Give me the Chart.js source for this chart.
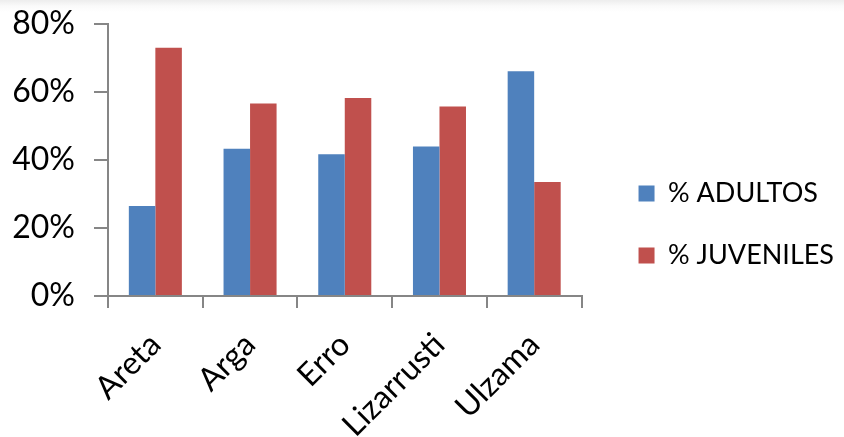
<!DOCTYPE html>
<html>
<head>
<meta charset="utf-8">
<script src="https://cdn.jsdelivr.net/npm/chart.js@4/dist/chart.umd.min.js"></script>
<style>
    html, body { margin: 0; padding: 0; background: #fff; }
    #wrap {
        width: 844px; height: 437px; position: relative;
        background: linear-gradient(#ededed 0px, #fafafa 6px, #fff 12px);
    }
</style>
</head>
<body>
<div id="wrap"><canvas id="chart"></canvas></div>
<script>
// Datos
const rivers = ['Areta', 'Arga', 'Erro', 'Lizarrusti', 'Ulzama'];
const adultos = [26.5, 43.3, 41.7, 44.0, 66.1];
const juveniles = [73.0, 56.6, 58.2, 55.7, 33.5];
const yTicks = [0, 20, 40, 60, 80];

const axisColor = '#868686';
const tickFont = { family: 'Lato', size: 32, lineHeight: 1 };
const legendFont = { family: 'Lato', size: 27, lineHeight: 1 };

function drawChart() {
    new Chart(document.getElementById('chart'), {
        type: 'bar',
        data: {
            labels: rivers,
            datasets: [
                {
                    label: '% ADULTOS',
                    data: adultos,
                    backgroundColor: '#4F81BD',
                    barPercentage: 1,
                    categoryPercentage: 0.56
                },
                {
                    label: '% JUVENILES',
                    data: juveniles,
                    backgroundColor: '#C0504D',
                    barPercentage: 1,
                    categoryPercentage: 0.56
                }
            ]
        },
        options: {
            responsive: true,
            maintainAspectRatio: false,
            animation: false,
            layout: { padding: { top: 12, left: 0, right: 0, bottom: 0 } },
            plugins: {
                tooltip: { enabled: false },
                legend: {
                    position: 'right',
                    maxWidth: 320,
                    labels: {
                        font: legendFont,
                        color: '#000',
                        boxWidth: 16,
                        boxHeight: 16,
                        padding: 35
                    }
                }
            },
            scales: {
                x: {
                    grid: {
                        drawOnChartArea: false,
                        drawTicks: true,
                        tickLength: 12,
                        color: axisColor,
                        lineWidth: 2
                    },
                    border: { color: axisColor, width: 2 },
                    ticks: {
                        font: tickFont,
                        color: '#000',
                        minRotation: 45,
                        maxRotation: 45,
                        autoSkip: false,
                        padding: 20
                    },
                    afterFit: (scale) => {
                        scale.height = 141;
                        scale.paddingLeft = 0;
                        scale.paddingRight = 0;
                    }
                },
                y: {
                    min: 0,
                    max: 80,
                    afterBuildTicks: (scale) => { scale.ticks = yTicks.map(v => ({ value: v })); },
                    grid: {
                        drawOnChartArea: false,
                        drawTicks: true,
                        tickLength: 14,
                        color: axisColor,
                        lineWidth: 2
                    },
                    border: { color: axisColor, width: 2 },
                    ticks: {
                        font: tickFont,
                        color: '#000',
                        padding: 19,
                        callback: (value) => value + '%'
                    },
                    afterFit: (scale) => {
                        scale.width = 108;
                        scale.paddingTop = 24;
                        scale.paddingBottom = 0;
                    }
                },
                spacer: {
                    position: 'right',
                    display: true,
                    grid: { display: false },
                    border: { display: false },
                    ticks: { display: false },
                    afterFit: (scale) => { scale.width = 22; }
                }
            }
        }
    });
}

// Wait for the font so the legend is measured right
document.fonts.load('32px Lato').then(drawChart, drawChart);
</script>
</body>
</html>
